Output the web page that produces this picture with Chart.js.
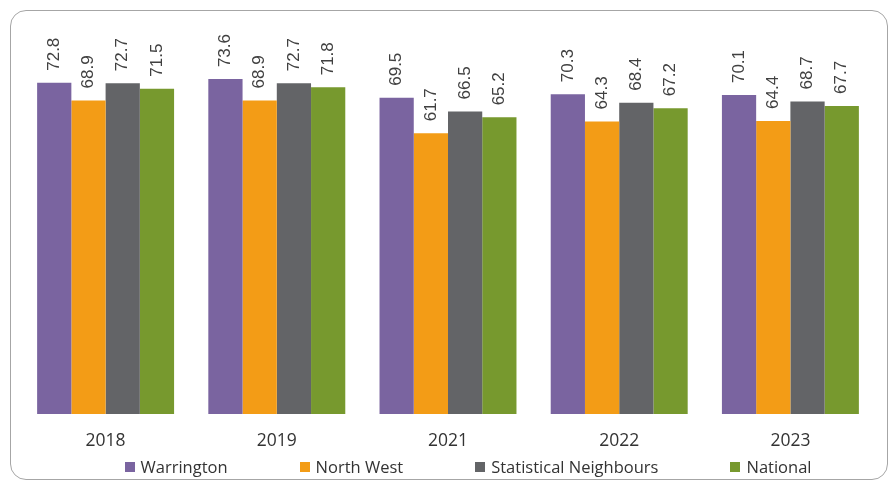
<!DOCTYPE html>
<html>
<head>
<meta charset="utf-8">
<script src="https://cdn.jsdelivr.net/npm/chart.js@4.4.0/dist/chart.umd.min.js"></script>
<style>
    html, body { margin: 0; padding: 0; background: #fff; }
    #wrap { position: relative; width: 892px; height: 486px; }
    #frame {
        position: absolute; left: 10px; top: 10px; width: 878px; height: 470px;
        border: 1.5px solid #a6a6a6; border-radius: 16px; box-sizing: border-box;
    }
    #chart { position: absolute; left: 0; top: 0; }
    #legend {
        position: absolute; left: 0; top: 456px; width: 892px; box-sizing: border-box;
        padding-left: 44px;
        display: flex; justify-content: center; gap: 72px;
        font: 16.5px 'Open Sans', sans-serif; color: #333; line-height: 22px;
    }
    #legend span.item { display: flex; align-items: center; }
    #legend span.box { width: 10px; height: 10px; margin-right: 6px; display: inline-block; }
</style>
</head>
<body>
<div id="wrap">
    <div id="frame"></div>
    <canvas id="chart" width="892" height="486"></canvas>
    <div id="legend"></div>
</div>
<script>
// ===== Data =====
const years = ["2018", "2019", "2021", "2022", "2023"];
const warrington = [72.8, 73.6, 69.5, 70.3, 70.1];
const northWest = [68.9, 68.9, 61.7, 64.3, 64.4];
const statNeighbours = [72.7, 72.7, 66.5, 68.4, 68.7];
const national = [71.5, 71.8, 65.2, 67.2, 67.7];

const seriesNames = ["Warrington", "North West", "Statistical Neighbours", "National"];
const seriesColors = ["#7a64a0", "#f39c16", "#636467", "#77992e"];

// ===== Value labels drawn vertically above each bar =====
const barLabels = {
    id: "barLabels",
    afterDatasetsDraw(chart) {
        const ctx = chart.ctx;
        ctx.save();
        ctx.font = "17px 'Liberation Sans', Arial, sans-serif";
        ctx.fillStyle = "#404040";
        ctx.textAlign = "left";
        ctx.textBaseline = "middle";
        chart.data.datasets.forEach((ds, i) => {
            chart.getDatasetMeta(i).data.forEach((bar, j) => {
                ctx.save();
                ctx.translate(bar.x, bar.y - 12);
                ctx.rotate(-Math.PI / 2);
                ctx.fillText(ds.data[j].toFixed(1), 0, 0);
                ctx.restore();
            });
        });
        ctx.restore();
    }
};

const allSeries = [warrington, northWest, statNeighbours, national];

const chart = new Chart(document.getElementById("chart").getContext("2d"), {
    type: "bar",
    data: {
        labels: years,
        datasets: allSeries.map((data, i) => ({
            label: seriesNames[i],
            data: data,
            backgroundColor: seriesColors[i],
            borderWidth: 0,
            categoryPercentage: 0.8,
            barPercentage: 1.0
        }))
    },
    options: {
        responsive: false,
        animation: false,
        layout: { padding: { left: 20, right: 16, top: 50, bottom: 25 } },
        scales: {
            x: {
                grid: { display: false },
                border: { display: false },
                ticks: {
                    color: "#333",
                    padding: 9,
                    font: { family: "'Open Sans', sans-serif", size: 17.5 }
                }
            },
            y: {
                display: false,
                min: 0,
                max: 80
            }
        },
        plugins: {
            legend: { display: false },
            tooltip: { enabled: false }
        }
    },
    plugins: [barLabels]
});

// ===== HTML legend =====
const legendEl = document.getElementById("legend");
chart.data.datasets.forEach(ds => {
    const item = document.createElement("span");
    item.className = "item";
    item.innerHTML = `<span class="box" style="background:${ds.backgroundColor}"></span>${ds.label}`;
    legendEl.appendChild(item);
});
</script>
</body>
</html>
